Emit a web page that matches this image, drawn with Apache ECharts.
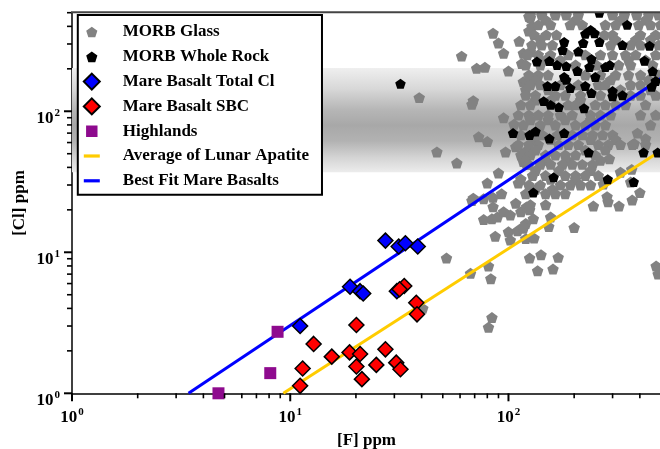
<!DOCTYPE html>
<html>
<head>
<meta charset="utf-8">
<script src="https://cdn.jsdelivr.net/npm/echarts@6/dist/echarts.min.js"></script>
<style>
  html, body { margin: 0; padding: 0; background: #fff; }
  #chart { width: 660px; height: 449px; }
</style>
</head>
<body>
<div id="chart"></div>
<script>
// [F] ppm, [Cl] ppm
const morbGlass = [
  [61, 246], [71.5, 202], [78, 205], [85, 358], [90, 305], [95, 258], [100, 193], [112, 314], [124, 370],
  [39, 125], [68, 112], [69, 119], [47, 51.5], [58, 43], [73, 66], [80, 61], [95, 90], [106, 81],
  [97, 51.5], [108, 56], [90, 36.5], [80, 31], [69, 24.2], [117, 258], [115, 218], [126, 264], [117, 162],
  [121, 158], [126, 460], [128, 400], [124, 470], [120, 52], [117, 44], [121, 42], [111, 31], [68, 23.3],
  [77, 24], [85, 24.5], [93, 26], [108, 22.3], [85, 21], [77, 17.1], [84, 17.3], [89, 17.8], [95, 19.4],
  [102, 18.4], [114, 19.4], [121, 21], [100, 14], [110, 14.2], [117, 14.8], [87, 13], [102, 12.2],
  [52, 9.1], [81, 8], [125, 9.1], [120, 12.5], [125, 20], [130, 17.3], [120, 16], [117, 15.2], [156, 17.8],
  [153, 15.2], [200, 15], [245, 21.3], [286, 22.8], [321, 21.3], [369, 23.5], [131, 12.6], [67, 7.1],
  [83, 6.5], [141, 9.6], [169, 9.2], [136, 7.4], [160, 7.6], [84, 3.45], [81, 2.94], [40.5, 4.0],
  [290, 46], [326, 37], [367, 38.7], [283, 24.8], [400, 26.5], [363, 31.5], [390, 70], [425, 64],
  [377, 59], [272, 30.5], [475, 8.0], [485, 7.0],
  // dense cloud
  [126, 482], [142, 482], [164, 482], [184, 482], [209, 482], [300, 482], [340, 482], [387, 482], [439, 482], [488, 482],
  [148, 444], [203, 444], [326, 444], [425, 444],
  [137, 410], [156, 410], [192, 410], [218, 410], [278, 410], [310, 410], [395, 410], [448, 410], [498, 410],
  [131, 348], [149, 348], [166, 348], [275, 348], [300, 348], [403, 348], [473, 348],
  [140, 321], [310, 321], [383, 321], [448, 321],
  [128, 295], [142, 295], [159, 295], [294, 295], [363, 295], [403, 295], [488, 295],
  [122, 251], [137, 251], [156, 251], [188, 251], [225, 251], [264, 251], [300, 251], [344, 251], [383, 251], [473, 251],
  [148, 231], [173, 231], [355, 231], [425, 231],
  [120, 213], [140, 213], [203, 213], [253, 213], [320, 213], [363, 213], [458, 213],
  [124, 181], [137, 181], [152, 181], [225, 181], [264, 181], [310, 181], [355, 181], [403, 181], [488, 181],
  [133, 167], [294, 167], [439, 167],
  [126, 154], [140, 154], [173, 154], [209, 154], [258, 154], [278, 154], [363, 154], [403, 154],
  [120, 142], [152, 142], [326, 142], [448, 142],
  [120, 130], [133, 130], [164, 130], [182, 130], [214, 130], [264, 130], [363, 130], [403, 130], [473, 130],
  [133, 120], [156, 120], [214, 120],
  [114, 111], [126, 111], [188, 111], [203, 111], [250, 111], [278, 111], [310, 111], [344, 111], [425, 111],
  [111, 94], [124, 94], [137, 94], [152, 94], [173, 94], [196, 94], [238, 94], [264, 94], [294, 94], [403, 94], [473, 94],
  [126, 87], [152, 87], [182, 87], [238, 87],
  [117, 80], [140, 80], [164, 80], [203, 80], [225, 80], [250, 80], [278, 80], [448, 80],
  [114, 68], [143, 68], [168, 68], [196, 68], [218, 68], [243, 68], [270, 68], [300, 68],
  [131, 63], [156, 63], [238, 63], [310, 63],
  [111, 58], [124, 58], [137, 58], [170, 58], [188, 58], [209, 58], [258, 58], [287, 58], [326, 58], [370, 58], [425, 58],
  [133, 53], [225, 53], [278, 53],
  [114, 49], [126, 49], [148, 49], [164, 49], [182, 49], [203, 49], [250, 49],
  [120, 45], [148, 45], [186, 45], [264, 45],
  [124, 42], [140, 42], [156, 42], [177, 42], [196, 42], [218, 42], [243, 42],
  [133, 38], [170, 38], [238, 38],
  [129, 35], [148, 35], [182, 35], [203, 35], [225, 35], [258, 35],
  [114, 33], [156, 33], [203, 33],
  [124, 30], [140, 30], [173, 30], [192, 30], [214, 30], [238, 30],
  [133, 28], [159, 28],
  [120, 26], [148, 26], [164, 26], [182, 26],
  [126, 21.7], [148, 21.7]
];

const morbWholeRock = [
  [32, 157], [105, 70], [125, 68], [133, 72], [154, 64], [180, 70], [222, 105], [145, 118], [156, 111],
  [170, 107], [135, 225], [154, 227], [167, 213], [184, 209], [207, 193], [151, 151], [164, 151], [180, 175],
  [192, 146], [225, 151], [240, 135], [250, 175], [278, 206], [291, 213], [300, 139], [333, 130], [333, 295],
  [350, 410], [443, 292], [420, 228], [458, 192], [453, 149], [473, 164], [233, 51], [161, 34], [130, 26.5],
  [416, 51], [375, 31.5], [285, 33], [483, 51], [238, 377], [225, 354], [248, 358], [220, 305], [177, 272],
  [180, 310], [209, 265], [240, 235], [261, 310], [261, 500], [184, 167], [300, 128], [235, 206]
];

const mareTotalCl = [
  [11.1, 3.0], [27.3, 12.1], [31.4, 11.0], [33.7, 11.6], [38.4, 11.0], [18.8, 5.7], [20.9, 5.3],
  [21.6, 5.1], [30.8, 5.3]
];

const mareSBC = [
  [33.3, 5.77], [31.7, 5.47], [37.8, 4.39], [38.1, 3.63], [20.1, 3.05], [15.5, 1.82], [18.7, 1.95],
  [20.9, 1.90], [27.3, 2.05], [20.1, 1.55], [24.8, 1.59], [30.6, 1.65], [32.0, 1.48], [21.3, 1.26],
  [12.8, 2.24], [11.4, 1.50], [11.1, 1.13]
];

const highlands = [[8.75, 2.73], [8.1, 1.39], [4.69, 1.0]];

const apatiteLine = [[9.3, 1], [500, 52.6]];
const bestFitLine = [[3.42, 1], [500, 171]];

const chlorineBand = [37, 203];
const axisRange = [1, 500];
const majorTicks = [1, 10, 100];
const minorTicks = [2, 3, 4, 5, 6, 7, 8, 9, 20, 30, 40, 50, 60, 70, 80, 90, 200, 300, 400, 500];

const serif = "'Liberation Serif', 'Times New Roman', serif";
const pentagon = 'path://M50,2 L97.55,36.55 L79.39,92.45 L20.61,92.45 L2.45,36.55 Z';
// same shapes with invisible corner points, so the legend draws them smaller
const pentagonIcon = pentagon + ' M-18,-18 L-18,-17.9 M118,112 L118,112.1';
const squareIcon = 'path://M0,0 L100,0 L100,100 L0,100 Z M-20,-20 L-20,-19.9 M120,120 L120,119.9';
const barIcon = 'path://M0,0 L100,0 L100,20 L0,20 Z';

function powLabel(margin, padding) {
  return {
    customValues: majorTicks,
    margin: margin,
    padding: padding,
    formatter: function (v) {
      return '{b|10}{s|' + Math.round(Math.log10(v)) + '}';
    },
    rich: {
      b: { fontFamily: serif, fontWeight: 'bold', fontSize: 17, color: '#000', padding: [3, 0, 0, 0] },
      s: { fontFamily: serif, fontWeight: 'bold', fontSize: 11, color: '#000', verticalAlign: 'top', padding: [0, 0, 0, 1] }
    }
  };
}

function logAxis(name, gap, label) {
  return {
    type: 'log', logBase: 10, min: axisRange[0], max: axisRange[1],
    name: name, nameLocation: 'middle', nameGap: gap, nameMoveOverlap: false,
    nameTextStyle: { fontFamily: serif, fontWeight: 'bold', fontSize: 17, color: '#000' },
    axisLine: { lineStyle: { color: '#000', width: 1.5 } },
    axisTick: { show: false },
    axisLabel: label,
    splitLine: { show: false }
  };
}

// outward tick marks, placed through the log scales as thin rect symbols
function tickSeries(values, onX, len, w) {
  return {
    type: 'scatter', z: 10, silent: true, clip: false,
    data: values.map(v => onX ? [v, axisRange[0]] : [axisRange[0], v]),
    symbol: 'rect',
    symbolSize: onX ? [w, len] : [len, w],
    symbolOffset: onX ? [0, len / 2] : [-len / 2, 0],
    itemStyle: { color: '#000', opacity: 1 }
  };
}

const chart = echarts.init(document.getElementById('chart'));

chart.setOption({
  animation: false,
  grid: { left: 72, right: -1, top: 12.7, bottom: 55.7, outerBoundsMode: 'none' },
  xAxis: logAxis('[F] ppm', 39, powLabel(13, 0)),
  yAxis: logAxis('[Cl] ppm', 44, powLabel(12, [12, 0, 0, 0])),
  legend: {
    orient: 'vertical',
    left: 77.8, top: 15,
    padding: [8, 13, 5, 5],
    itemWidth: 16, itemHeight: 16, itemGap: 6.8,
    backgroundColor: '#fff',
    borderColor: '#000', borderWidth: 2,
    formatter: '{t|{name}}',
    textStyle: {
      fontFamily: serif, fontWeight: 'bold', fontSize: 17, color: '#000', lineHeight: 18,
      rich: { t: { fontFamily: serif, fontWeight: 'bold', fontSize: 17, lineHeight: 18, padding: [0, 0, 0, 18] } }
    },
    data: [
      { name: 'MORB Glass', icon: pentagonIcon },
      { name: 'MORB Whole Rock', icon: pentagonIcon },
      { name: 'Mare Basalt Total Cl', icon: 'diamond' },
      { name: 'Mare Basalt SBC', icon: 'diamond' },
      { name: 'Highlands', icon: squareIcon },
      { name: 'Average of Lunar Apatite', icon: barIcon },
      { name: 'Best Fit Mare Basalts', icon: barIcon }
    ]
  },
  graphic: [
    { type: 'rect', z: 100, shape: { x: 73, y: 0, width: 600, height: 12 }, style: { fill: '#fff' } },
    { type: 'line', z: 101, shape: { x1: 71, y1: 12.2, x2: 660, y2: 12.2 }, style: { stroke: '#444', lineWidth: 2 } }
  ],
  series: [
    {
      name: 'band', type: 'scatter', z: 1, data: [], silent: true,
      markArea: {
        silent: true,
        itemStyle: {
          opacity: 1,
          color: {
            type: 'linear', x: 0, y: 0, x2: 0, y2: 1,
            colorStops: [
              { offset: 0, color: '#efefef' },
              { offset: 0.2, color: '#d8d8d8' },
              { offset: 0.4, color: '#b6b6b6' },
              { offset: 0.55, color: '#a8a8a8' },
              { offset: 0.7, color: '#b2b2b2' },
              { offset: 0.86, color: '#d4d4d4' },
              { offset: 1, color: '#ececec' }
            ]
          }
        },
        data: [[{ xAxis: axisRange[0], yAxis: chlorineBand[1] }, { xAxis: axisRange[1], yAxis: chlorineBand[0] }]]
      }
    },
    {
      name: 'MORB Glass', type: 'scatter', z: 2, data: morbGlass,
      symbol: pentagon, symbolSize: 11.5, symbolKeepAspect: true,
      itemStyle: { color: '#828282', opacity: 1 }
    },
    {
      name: 'Average of Lunar Apatite', type: 'line', z: 3, data: apatiteLine,
      symbol: 'none', color: '#ffcc00', lineStyle: { color: '#ffcc00', width: 3 }
    },
    {
      name: 'Best Fit Mare Basalts', type: 'line', z: 3, data: bestFitLine,
      symbol: 'none', color: '#0000ff', lineStyle: { color: '#0000ff', width: 3 }
    },
    {
      name: 'MORB Whole Rock', type: 'scatter', z: 4, data: morbWholeRock,
      symbol: pentagon, symbolSize: 10.5, symbolKeepAspect: true,
      itemStyle: { color: '#000', opacity: 1 }
    },
    {
      name: 'Mare Basalt Total Cl', type: 'scatter', z: 5, data: mareTotalCl,
      symbol: 'diamond', symbolSize: 15,
      itemStyle: { color: '#0000ff', borderColor: '#000', borderWidth: 1.5, opacity: 1 }
    },
    {
      name: 'Mare Basalt SBC', type: 'scatter', z: 5, data: mareSBC,
      symbol: 'diamond', symbolSize: 15,
      itemStyle: { color: '#ff0000', borderColor: '#000', borderWidth: 1.5, opacity: 1 }
    },
    {
      name: 'Highlands', type: 'scatter', z: 5, data: highlands, clip: false,
      symbol: 'rect', symbolSize: 12,
      itemStyle: { color: '#8e0a8e', opacity: 1 }
    },
    Object.assign(tickSeries(majorTicks, true, 8, 2), { name: 'xMajorTicks' }),
    Object.assign(tickSeries(minorTicks, true, 5, 1.6), { name: 'xMinorTicks' }),
    Object.assign(tickSeries(majorTicks, false, 8, 2), { name: 'yMajorTicks' }),
    Object.assign(tickSeries(minorTicks, false, 5, 1.6), { name: 'yMinorTicks' })
  ]
});
</script>
</body>
</html>
